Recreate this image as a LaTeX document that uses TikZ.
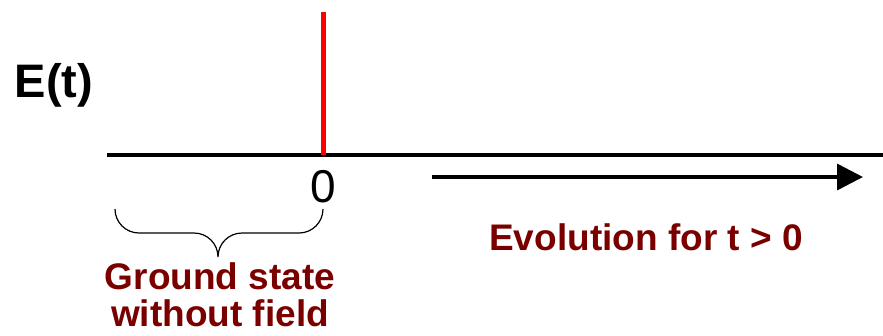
\documentclass[tikz,border=0pt]{standalone}
\usepackage{fontspec}
\setmainfont{Liberation Sans}
\usetikzlibrary{arrows.meta}
\definecolor{darkred}{RGB}{122,0,0}
\definecolor{pulse}{RGB}{255,0,0}
\tikzset{
  lbl/.style={inner sep=0pt, anchor=base, font=\bfseries\fontsize{37}{40}\selectfont, text=darkred},
  axislbl/.style={inner sep=0pt, anchor=base, font=\fontsize{46}{50}\selectfont},
  axisline/.style={line width=4pt, black},
  pulseline/.style={line width=4.5pt, pulse},
  evoarrow/.style={line width=3.5pt, -{Triangle[length=26pt,width=26pt]}},
  bracestyle/.style={line width=1.2pt, black}
}
\begin{document}
\begin{tikzpicture}[x=1pt,y=-1pt]
\useasboundingbox (0,0) rectangle (883,335);
% axis
\coordinate (axL) at (107,155);
\coordinate (axR) at (883,155);
\draw[axisline] (axL) -- (axR);
% pulse at t=0
\coordinate (pTop) at (323.5,11.5);
\coordinate (pBot) at (323.5,155);
\draw[pulseline] (pBot) -- (pTop);
% labels
\node[axislbl, font=\bfseries\fontsize{47}{50}\selectfont] (Et) at (54,97) {E(t)};
\node[axislbl] (zero) at (323,202) {0};
% evolution arrow
\coordinate (evS) at (432,177);
\coordinate (evE) at (863,177);
\draw[evoarrow] (evS) -- (evE);
\node[lbl] (evo) at (646,250) {Evolution for t > 0};
% brace
\coordinate (bL) at (115,209);
\coordinate (bR) at (323,209);
\coordinate (bTip) at (218,257);
\draw[bracestyle] (bL) to[out=-90,in=180] (139,233) -- (194,233)
  to[out=0,in=90] (bTip) to[out=90,in=180] (242,233) -- (299,233)
  to[out=0,in=-90] (bR);
\node[lbl] (gs1) at (220,289) {Ground state};
\node[lbl] (gs2) at (220,326) {without field};
\end{tikzpicture}
\end{document}
